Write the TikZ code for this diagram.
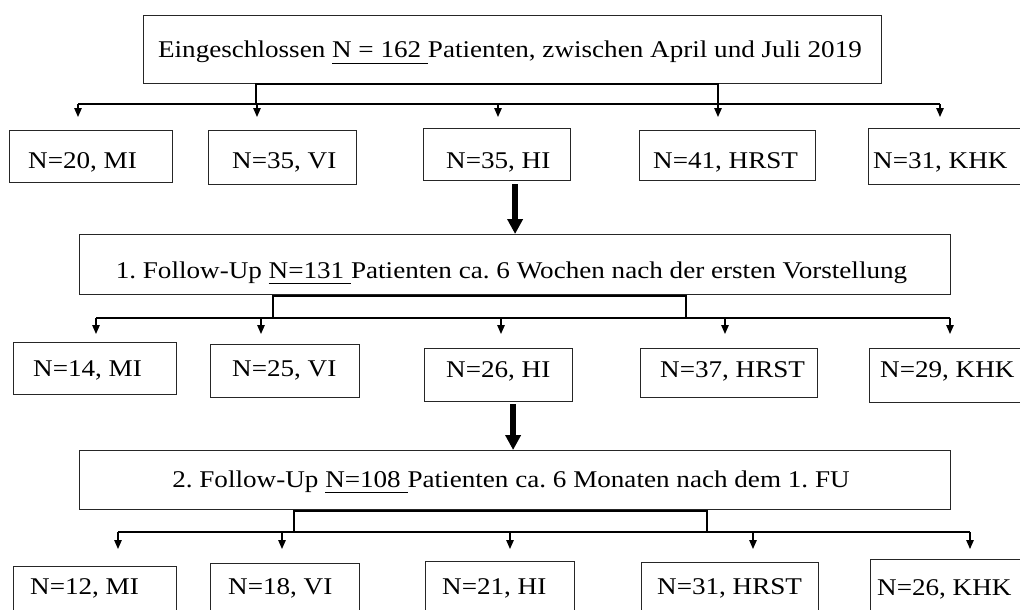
\documentclass[tikz,border=0pt]{standalone}
\usepackage{fontspec}
\setmainfont{Liberation Serif}[FakeStretch=1.13]
\usetikzlibrary{arrows.meta}
\newcommand\nunder[1]{\setbox0\hbox{#1}\rlap{\rule[-6pt]{\wd0}{1pt}}\box0}
\frenchspacing
\begin{document}
\begin{tikzpicture}[x=1pt,y=-1pt,
 box/.style={draw=black!85, line width=1.2pt, inner sep=0pt, anchor=north west},
 lbl/.style={inner sep=0pt, font=\fontsize{24}{28}\selectfont},
 conn/.style={line width=2.4pt, line join=miter},
 sarrow/.style={line width=1.3pt, -{Triangle[width=7.5pt,length=9pt]}},
 bigarrow/.style={line width=5.5pt, -{Triangle[width=15pt,length=15pt]}}
]
\useasboundingbox (0,0) rectangle (1020,610);

% ---------- level 0 ----------
\node[box, minimum width=738pt, minimum height=68pt] (t0) at (143,15) {};
\node[lbl, anchor=base] (t0t) at (510,58) {Eingeschlossen \nunder{N = 162\ }Patienten, zwischen April und Juli 2019};

% ---------- row 1 ----------
\node[box, minimum width=163pt, minimum height=52pt] (a1) at (9,130) {};
\node[lbl, anchor=base west] (a1t) at (28,168) {N=20, MI};
\node[box, minimum width=148pt, minimum height=54pt] (b1) at (208,130) {};
\node[lbl, anchor=base west] (b1t) at (232,168) {N=35, VI};
\node[box, minimum width=147pt, minimum height=52pt] (c1) at (423,128) {};
\node[lbl, anchor=base west] (c1t) at (446,168) {N=35, HI};
\node[box, minimum width=176pt, minimum height=50pt] (d1) at (639,130) {};
\node[lbl, anchor=base west] (d1t) at (653,168) {N=41, HRST};
\node[box, minimum width=170pt, minimum height=56pt] (e1) at (868,128) {};
\node[lbl, anchor=base west] (e1t) at (873,168) {N=31, KHK};

% ---------- follow-up 1 ----------
\node[box, minimum width=871pt, minimum height=60pt] (f1) at (79,234) {};
\node[lbl, anchor=base] (f1t) at (511.5,278) {1. Follow-Up \nunder{N=131\ }Patienten ca. 6 Wochen nach der ersten Vorstellung};

% ---------- row 2 ----------
\node[box, minimum width=163pt, minimum height=52pt] (a2) at (13,342) {};
\node[lbl, anchor=base west] (a2t) at (33,376) {N=14, MI};
\node[box, minimum width=149pt, minimum height=53pt] (b2) at (210,344) {};
\node[lbl, anchor=base west] (b2t) at (232,376) {N=25, VI};
\node[box, minimum width=148pt, minimum height=53pt] (c2) at (424,348) {};
\node[lbl, anchor=base west] (c2t) at (446,377) {N=26, HI};
\node[box, minimum width=177pt, minimum height=49pt] (d2) at (640,348) {};
\node[lbl, anchor=base west] (d2t) at (660,377) {N=37, HRST};
\node[box, minimum width=170pt, minimum height=54pt] (e2) at (869,348) {};
\node[lbl, anchor=base west] (e2t) at (880,377) {N=29, KHK};

% ---------- follow-up 2 ----------
\node[box, minimum width=871pt, minimum height=59pt] (f2) at (79,450) {};
\node[lbl, anchor=base] (f2t) at (511,487) {2. Follow-Up \nunder{N=108\ }Patienten ca. 6 Monaten nach dem 1. FU};

% ---------- row 3 ----------
\node[box, minimum width=163pt, minimum height=70pt] (a3) at (13,566) {};
\node[lbl, anchor=base west] (a3t) at (30,594) {N=12, MI};
\node[box, minimum width=149pt, minimum height=70pt] (b3) at (210,563) {};
\node[lbl, anchor=base west] (b3t) at (228,594) {N=18, VI};
\node[box, minimum width=149pt, minimum height=70pt] (c3) at (425,561) {};
\node[lbl, anchor=base west] (c3t) at (442,594) {N=21, HI};
\node[box, minimum width=177pt, minimum height=70pt] (d3) at (641,562) {};
\node[lbl, anchor=base west] (d3t) at (657,594) {N=31, HRST};
\node[box, minimum width=170pt, minimum height=70pt] (e3) at (870,559) {};
\node[lbl, anchor=base west] (e3t) at (877,595) {N=26, KHK};

% ---------- bracket 1 ----------
\coordinate (p1a) at (256,84); \coordinate (p1b) at (718,84);
\coordinate (q1a) at (78,104); \coordinate (q1b) at (940,104);
\draw[conn] (q1a) -- (q1b);
\draw[conn] (p1a |- q1a) -- (p1a) -- (p1b) -- (p1b |- q1a);
\foreach \x in {78,257,498,718,940} \draw[sarrow] (\x,104) -- (\x,117);

% ---------- bracket 2 ----------
\coordinate (p2a) at (273,296); \coordinate (p2b) at (686,296);
\coordinate (q2a) at (96,318); \coordinate (q2b) at (950,318);
\draw[conn] (q2a) -- (q2b);
\draw[conn] (p2a |- q2a) -- (p2a) -- (p2b) -- (p2b |- q2a);
\foreach \x in {96,261,501,725,950} \draw[sarrow] (\x,318) -- (\x,334);

% ---------- bracket 3 ----------
\coordinate (p3a) at (294,511); \coordinate (p3b) at (707,511);
\coordinate (q3a) at (118,532); \coordinate (q3b) at (970,532);
\draw[conn] (q3a) -- (q3b);
\draw[conn] (p3a |- q3a) -- (p3a) -- (p3b) -- (p3b |- q3a);
\foreach \x in {118,282,510,753,970} \draw[sarrow] (\x,532) -- (\x,549);

% ---------- thick arrows ----------
\draw[bigarrow] ([yshift=-3pt]c1.south -| f1.north) -- (f1.north);
\draw[bigarrow] ([yshift=-2pt,xshift=-2pt]c2.south -| f2.north) -- ([xshift=-2pt]f2.north);
\end{tikzpicture}
\end{document}
